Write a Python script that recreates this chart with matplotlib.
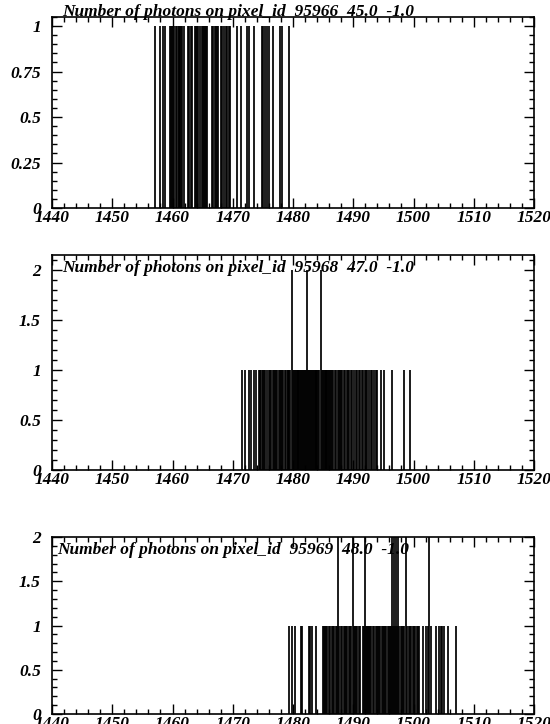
import matplotlib
matplotlib.use("Agg")
import matplotlib.pyplot as plt
from matplotlib.ticker import MultipleLocator, FormatStrFormatter

# ---------------- data ----------------
titles = ["Number of photons on pixel_id  95966  45.0  -1.0",
          "Number of photons on pixel_id  95968  47.0  -1.0",
          "Number of photons on pixel_id  95969  48.0  -1.0"]

times1 = [1457.1, 1458.0, 1458.5, 1458.8,
          1459.6, 1459.75, 1459.9, 1460.05, 1460.2,
          1460.5, 1460.7,
          1461.0, 1461.15, 1461.3, 1461.45, 1461.6, 1461.9,
          1462.6, 1462.8, 1463.0, 1463.2,
          1463.8, 1463.95, 1464.1, 1464.3, 1464.6,
          1464.9, 1465.05, 1465.2, 1465.35, 1465.5, 1465.7,
          1466.6, 1466.8, 1467.0, 1467.2, 1467.4, 1467.6,
          1468.0, 1468.2, 1468.5, 1468.8, 1469.0, 1469.3, 1469.6,
          1470.7, 1471.3, 1472.3, 1472.7, 1473.5,
          1474.9, 1475.1, 1475.4, 1475.7, 1476.0, 1476.6,
          1477.9, 1478.1, 1479.3]
counts1 = [1] * len(times1)

times2_single = [1471.6, 1472.1, 1472.7, 1473.1, 1473.5, 1473.9,
                 1474.3, 1474.45, 1474.6, 1474.8, 1475.0, 1475.2, 1475.4, 1475.7,
                 1476.0, 1476.2, 1476.4, 1476.6,
                 1476.8, 1477.0, 1477.2, 1477.4,
                 1477.7, 1477.85, 1478.0, 1478.2, 1478.4, 1478.6, 1478.8,
                 1479.1, 1479.25, 1479.4, 1479.55, 1480.0, 1480.15, 1480.3, 1480.45,
                 1480.6, 1480.75, 1480.9, 1481.05, 1481.2, 1481.35, 1481.5, 1481.65,
                 1481.8, 1481.95, 1482.1, 1482.55, 1482.7, 1482.85, 1483.0, 1483.15,
                 1483.3, 1483.45, 1483.6, 1483.75, 1483.9, 1484.05, 1484.2, 1484.35,
                 1484.8, 1484.95, 1485.1, 1485.25, 1485.4, 1485.55, 1485.7, 1485.85,
                 1486.0, 1486.15, 1486.3, 1486.5, 1486.7, 1486.9, 1487.1,
                 1487.4, 1487.6, 1487.8, 1488.0, 1488.2,
                 1488.5, 1488.7, 1488.9, 1489.1, 1489.3,
                 1489.6, 1489.8, 1490.1,
                 1490.4, 1490.6, 1490.9, 1491.2,
                 1491.5, 1491.7, 1491.9, 1492.1, 1492.3, 1492.6,
                 1492.9, 1493.1, 1493.4, 1493.7,
                 1494.0, 1494.6, 1495.1, 1496.5, 1498.5, 1499.5]
times2_double = [1479.8, 1482.4, 1484.6]

times3_single = [1479.3, 1479.9, 1480.4, 1481.3, 1481.5, 1482.6, 1482.9, 1483.2, 1483.8,
                 1484.9, 1485.1, 1485.3, 1485.5, 1485.7,
                 1486.0, 1486.2, 1486.4, 1486.6, 1486.8,
                 1487.1, 1487.3, 1487.7, 1488.0,
                 1488.2, 1488.4, 1488.6, 1488.8, 1489.0,
                 1489.3, 1489.5, 1489.7, 1490.1, 1490.25, 1490.4,
                 1490.7, 1490.9, 1491.2,
                 1491.6, 1491.75, 1492.1, 1492.25, 1492.4,
                 1492.6, 1492.8, 1493.0, 1493.2, 1493.5,
                 1493.7, 1493.9, 1494.1, 1494.3, 1494.5, 1494.7, 1494.9,
                 1495.1, 1495.3, 1495.5, 1495.7, 1495.9, 1496.05, 1496.2,
                 1496.55, 1496.85, 1497.3,
                 1497.65, 1497.85, 1498.05, 1498.25, 1498.45,
                 1499.0, 1499.2, 1499.4, 1499.6, 1499.9,
                 1500.1, 1500.3, 1500.5, 1500.7, 1500.9,
                 1501.5, 1502.1, 1502.35, 1502.9, 1503.7,
                 1504.3, 1504.55, 1504.8, 1505.1, 1505.7, 1507.1]
times3_double = [1487.5, 1489.9, 1491.9, 1496.4, 1496.7, 1497.1, 1497.5, 1498.7, 1502.6]

x_range = (1440, 1520)
y_tops = [1.05, 2.15, 2.0]
y_major = [0.25, 0.5, 0.5]
y_minor = [0.05, 0.1, 0.1]
y_fmt = ["%g", "%g", "%g"]

# ---------------- figure ----------------
W, H = 550, 724
fig = plt.figure(figsize=(W / 100, H / 100), dpi=100)
fig.patch.set_facecolor("white")

font = {"family": "Liberation Serif", "weight": "bold", "style": "italic"}

# frame boxes in pixels: (left, top, right, bottom)
boxes = [(52, 17, 534, 208), (52, 255, 534, 470), (52, 537, 534, 714)]
title_pos = [(62, 12), (62, 268), (57, 550)]
title_size = [12.5, 12.5, 12.5]

panels = [
    [(times1, counts1)],
    [(times2_single, [1] * len(times2_single)), (times2_double, [2] * len(times2_double))],
    [(times3_single, [1] * len(times3_single)), (times3_double, [2] * len(times3_double))],
]

for i, (box, series) in enumerate(zip(boxes, panels)):
    l, t, r, b = box
    ax = fig.add_axes([l / W, 1 - b / H, (r - l) / W, (b - t) / H])
    for xs, ys in series:
        ax.vlines(xs, 0, ys, colors="black", linewidth=1.25)
    ax.set_xlim(*x_range)
    ax.set_ylim(0, y_tops[i])
    ax.xaxis.set_major_locator(MultipleLocator(10))
    ax.xaxis.set_minor_locator(MultipleLocator(2))
    ax.yaxis.set_major_locator(MultipleLocator(y_major[i]))
    ax.yaxis.set_minor_locator(MultipleLocator(y_minor[i]))
    ax.yaxis.set_major_formatter(FormatStrFormatter(y_fmt[i]))
    ax.tick_params(which="both", direction="in", top=True, right=True,
                   width=1.0, color="black")
    ax.tick_params(which="major", length=7)
    ax.tick_params(which="minor", length=3.5)
    ax.tick_params(axis="x", which="major", pad=1.5)
    ax.tick_params(axis="y", which="major", pad=8)
    for sp in ax.spines.values():
        sp.set_linewidth(1.2)
    for lab in ax.get_xticklabels() + ax.get_yticklabels():
        lab.set_fontfamily("Liberation Serif")
        lab.set_fontweight("bold")
        lab.set_fontstyle("italic")
        lab.set_fontsize(12.5)
    tx, ty = title_pos[i]
    fig.text(tx / W, 1 - ty / H, titles[i], fontsize=title_size[i],
             va="center", ha="left", **font)

fig.savefig("out.png", dpi=100)
